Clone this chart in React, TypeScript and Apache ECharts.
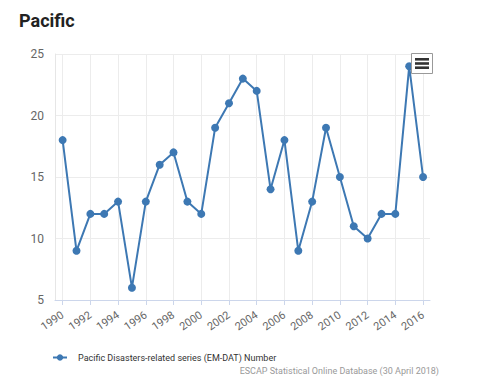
import React, { useEffect, useRef } from "react";
import * as echarts from "echarts";

const years: number[] = [1990,1991,1992,1993,1994,1995,1996,1997,1998,1999,2000,2001,2002,2003,2004,2005,2006,2007,2008,2009,2010,2011,2012,2013,2014,2015,2016];
const disasters: number[] = [18,9,12,12,13,6,13,16,17,13,12,19,21,23,22,14,18,9,13,19,15,11,10,12,12,24,15];
const xTickYears: number[] = [1990,1992,1994,1996,1998,2000,2002,2004,2006,2008,2010,2012,2014,2016];
const seriesName = "Pacific Disasters-related series (EM-DAT) Number";
const titleText = "Pacific";
const creditText = "ESCAP Statistical Online Database (30 April 2018)";

export default function App() {
  const ref = useRef<HTMLDivElement>(null);
  useEffect(() => {
    if (!ref.current) return;
    const chart = echarts.init(ref.current, null, { renderer: "svg" });
    const font = "Roboto, 'Noto Sans', sans-serif";
    chart.setOption({
      animation: false,
      textStyle: { fontFamily: font },
      title: {
        text: titleText,
        left: 14,
        top: 6,
        textStyle: { fontSize: 18, fontWeight: "bold", color: "#222", fontFamily: font },
      },
      grid: { left: 55, right: 51, top: 54, bottom: 92 },
      xAxis: {
        type: "value",
        min: 1989.45,
        max: 2016.5,
        axisLine: { show: true, lineStyle: { color: "#ccd6eb", width: 1 } },
        axisTick: {
          show: true,
          length: 5,
          customValues: xTickYears,
          lineStyle: { color: "#ccd6eb" },
        },
        axisLabel: {
          customValues: xTickYears,
          rotate: 34,
          margin: 14,
          color: "#666",
          fontSize: 11,
          fontFamily: font,
          formatter: (v: number) => String(v),
        },
        splitLine: { show: true, lineStyle: { color: "#ececec", width: 1 } },
      },
      yAxis: {
        type: "value",
        min: 5,
        max: 25,
        interval: 5,
        axisLine: { show: true, lineStyle: { color: "#e6e6e6" } },
        axisTick: { show: false },
        axisLabel: { color: "#666", fontSize: 12, margin: 11, fontFamily: font },
        splitLine: { show: true, lineStyle: { color: "#ececec", width: 1 } },
      },
      legend: {
        left: 47,
        top: 348,
        itemWidth: 14,
        itemHeight: 8,
        textStyle: { fontSize: 9, color: "#333", fontFamily: font, padding: [0, 0, 0, 6] },
        data: [{ name: seriesName }],
        selectedMode: false,
      },
      series: [
        {
          name: seriesName,
          type: "line",
          data: years.map((y, i) => [y, disasters[i]]),
          symbol: "circle",
          symbolSize: 8,
          lineStyle: { color: "#3d78b3", width: 2 },
          itemStyle: { color: "#3d78b3" },
        },
      ],
      graphic: [
        {
          type: "text",
          right: 481 - 439,
          top: 366,
          style: { text: creditText, fill: "#999", fontSize: 9, fontFamily: font },
        },
        {
          type: "group",
          left: 411,
          top: 53,
          z: 100,
          children: [
            { type: "rect", z: 100, shape: { x: 0.5, y: 0.5, width: 21, height: 20 }, style: { fill: "#fff", stroke: "#999", lineWidth: 1 } },
            { type: "rect", z: 101, shape: { x: 4, y: 5, width: 14, height: 2.6 }, style: { fill: "#333" } },
            { type: "rect", z: 101, shape: { x: 4, y: 9.2, width: 14, height: 2.6 }, style: { fill: "#333" } },
            { type: "rect", z: 101, shape: { x: 4, y: 13.4, width: 14, height: 2.6 }, style: { fill: "#333" } },
          ],
        },
      ],
    });
    return () => chart.dispose();
  }, []);
  return (
    <div
      ref={ref}
      style={{ position: "fixed", left: 0, top: 0, width: 481, height: 392, background: "#fff" }}
    />
  );
}
